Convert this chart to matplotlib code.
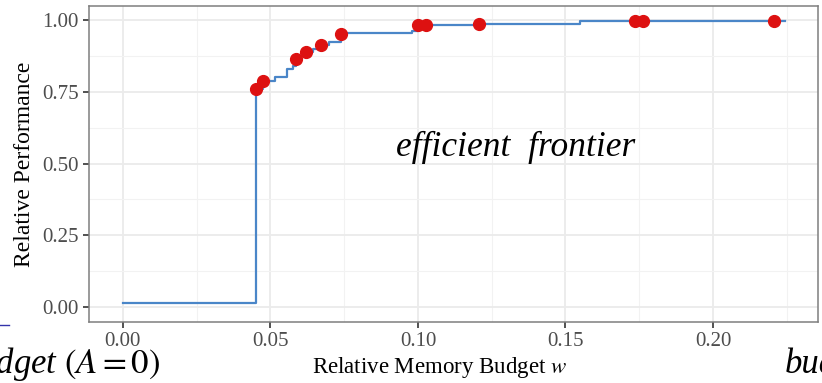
import numpy as np
import matplotlib.pyplot as plt
from matplotlib.lines import Line2D

plt.rcParams['font.family'] = ['Liberation Serif', 'DejaVu Serif']
plt.rcParams['mathtext.fontset'] = 'stix'

# frontier curve (step, post)
frontier_x = [0.0, 0.0452, 0.0475, 0.0515, 0.0556, 0.0577, 0.0585, 0.0600, 0.0622,
              0.0645, 0.0670, 0.0700, 0.0740, 0.0940, 0.0980, 0.1000, 0.1208,
              0.1550, 0.1736, 0.2244]
frontier_y = [0.015, 0.760, 0.787, 0.803, 0.829, 0.840, 0.864, 0.875, 0.887,
              0.900, 0.913, 0.924, 0.954, 0.956, 0.962, 0.983, 0.987,
              0.997, 0.998, 0.998]

# efficient points
pts_x = [0.0452, 0.0475, 0.0585, 0.0622, 0.0670, 0.0740, 0.1001, 0.1026, 0.1208,
         0.1736, 0.1764, 0.2207]
pts_y = [0.760, 0.787, 0.864, 0.887, 0.913, 0.950, 0.983, 0.983, 0.987,
         0.997, 0.997, 0.997]

fig = plt.figure(figsize=(8.22, 3.83), dpi=100)
ax = fig.add_axes([89/822, 1-322/383, (818-89)/822, (322-6)/383])

ax.plot(frontier_x, frontier_y, drawstyle='steps-post', color='#4a86c8', lw=1.6, zorder=3)
ax.plot(pts_x, pts_y, 'o', color='#dd1111', ms=8.5, zorder=4)

ax.set_xlim(-0.0115, 0.2356)
ax.set_ylim(-0.052, 1.049)
ax.set_xticks([0, 0.05, 0.10, 0.15, 0.20])
ax.set_xticklabels(['0.00', '0.05', '0.10', '0.15', '0.20'])
ax.set_yticks([0, 0.25, 0.5, 0.75, 1.0])
ax.set_yticklabels(['0.00', '0.25', '0.50', '0.75', '1.00'])
ax.set_xticks([0.025, 0.075, 0.125, 0.175, 0.225], minor=True)
ax.set_yticks([0.125, 0.375, 0.625, 0.875], minor=True)
ax.grid(True, which='major', color='#ebebeb', lw=1.3)
ax.grid(True, which='minor', color='#f2f2f2', lw=0.8)
ax.set_axisbelow(True)
ax.tick_params(which='major', length=4.5, width=1.2, color='#333333',
               labelcolor='#4d4d4d', labelsize=15, pad=3)
ax.tick_params(which='minor', length=0)
for s in ax.spines.values():
    s.set_color('#7f7f7f')
    s.set_linewidth(1.1)

ax.set_ylabel('Relative Performance', fontsize=17, labelpad=5)
ax.set_xlabel('Relative Memory Budget $w$', fontsize=16.5)
ax.xaxis.set_label_coords((440-89)/729, -0.105)

ax.text(0.133, 0.555, 'efficient  frontier', style='italic', fontsize=25.5,
        ha='center', va='center')

# leftovers of the slide around the chart
fig.text(160/822, 1-364/383, 'budget $(A = 0)$', style='italic', fontsize=25,
         ha='right', va='center')
fig.text(785/822, 1-364/383, 'budget', style='italic', fontsize=25,
         ha='left', va='center')
fig.add_artist(Line2D([0, 9/822], [1-325/383, 1-325/383], color='#3333aa', lw=1))

fig.savefig('out.png', dpi=100)
